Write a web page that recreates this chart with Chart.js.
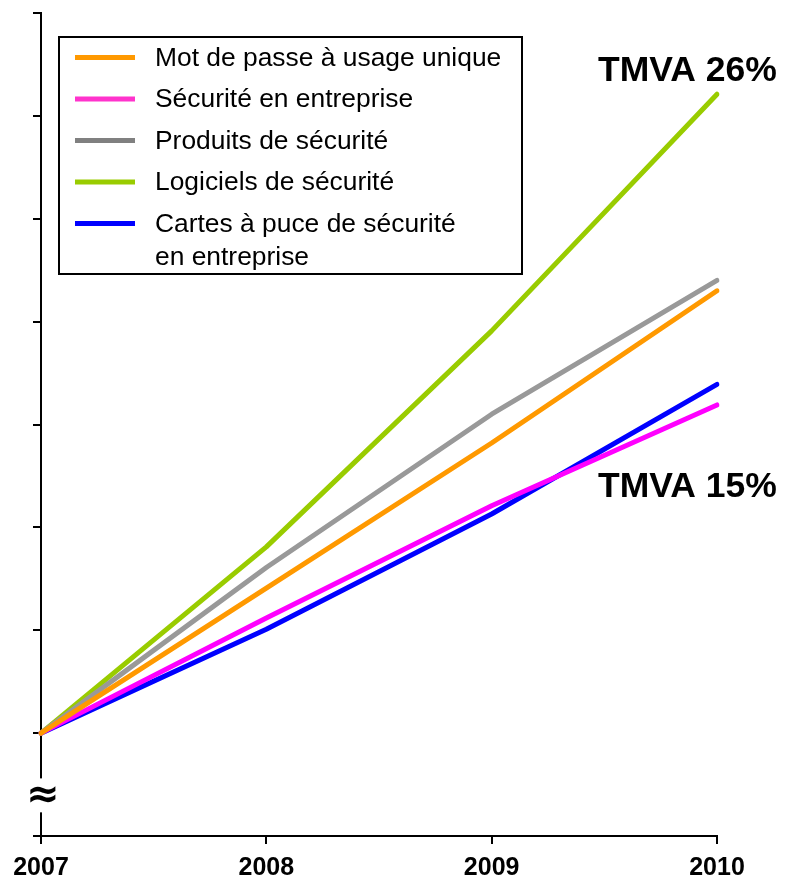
<!DOCTYPE html>
<html>
<head>
<meta charset="utf-8">
<script src="https://cdn.jsdelivr.net/npm/chart.js@4/dist/chart.umd.min.js"></script>
<style>
  html, body { margin: 0; padding: 0; background: #fff; }
  #wrap { width: 791px; height: 883px; position: relative; }
</style>
</head>
<body>
<div id="wrap"><canvas id="tmvaChart"></canvas></div>
<script>
// Years on the x axis
const years = ['2007', '2008', '2009', '2010'];

// Growth index per segment (one unit = one y tick above the 2007 base)
const motDePasse = [0, 1.41, 2.82, 4.30];
const securiteEntreprise = [0, 1.12, 2.21, 3.19];
const produitsSecurite = [0, 1.61, 3.10, 4.40];
const logicielsSecurite = [0, 1.81, 3.91, 6.21];
const cartesPuce = [0, 1.01, 2.13, 3.39];

// Legend text (multi-line where the label wraps)
const seriesLabels = [
  ['Mot de passe à usage unique'],
  ['Sécurité en entreprise'],
  ['Produits de sécurité'],
  ['Logiciels de sécurité'],
  ['Cartes à puce de sécurité', 'en entreprise']
];
const lineColors = ['#FF9900', '#FF00FF', '#999999', '#99CC00', '#0000FF'];
const legendColors = ['#FF9900', '#FF33CC', '#808080', '#99CC00', '#0000FF'];

// Growth-rate callouts
const callouts = ['TMVA 26%', 'TMVA 15%'];

const FONT = "Arial, 'Liberation Sans', sans-serif";

const seriesData = [motDePasse, securiteEntreprise, produitsSecurite, logicielsSecurite, cartesPuce];

const datasets = seriesData.map((values, i) => ({
  label: seriesLabels[i].join(' '),
  data: values,
  borderColor: lineColors[i],
  borderWidth: 5,
  borderCapStyle: 'round',
  borderJoinStyle: 'round',
  pointRadius: 0,
  tension: 0,
  fill: false
}));

// Axis break, legend box and TMVA callouts
const extras = {
  id: 'extras',
  afterDraw(chart) {
    const { ctx, chartArea } = chart;
    const yScale = chart.scales.y;
    const axisX = chartArea.left;

    // break in the value axis below the base
    const y0 = yScale.getPixelForValue(0);
    const yMin = yScale.getPixelForValue(-1);
    const gapTop = y0 + (yMin - y0) * 0.44;
    const gapBottom = y0 + (yMin - y0) * 0.77;
    ctx.save();
    ctx.fillStyle = '#fff';
    ctx.fillRect(axisX - 4, gapTop, 8, gapBottom - gapTop);
    ctx.fillStyle = '#000';
    ctx.font = "bold 40px 'DejaVu Sans', sans-serif";
    ctx.textAlign = 'center';
    ctx.textBaseline = 'middle';
    ctx.fillText('≈', axisX + 2, (gapTop + gapBottom) / 2 + 1);

    // legend
    const box = { x: 59, y: 37, w: 463, h: 237 };
    ctx.fillStyle = '#fff';
    ctx.fillRect(box.x, box.y, box.w, box.h);
    ctx.strokeStyle = '#000';
    ctx.lineWidth = 2;
    ctx.strokeRect(box.x, box.y, box.w, box.h);
    ctx.font = '26.4px ' + FONT;
    ctx.textAlign = 'left';
    ctx.textBaseline = 'middle';
    let rowY = box.y + 20.5;
    seriesLabels.forEach((lines, i) => {
      ctx.strokeStyle = legendColors[i];
      ctx.lineWidth = 5;
      ctx.beginPath();
      ctx.moveTo(box.x + 16, rowY);
      ctx.lineTo(box.x + 76, rowY);
      ctx.stroke();
      ctx.fillStyle = '#000';
      lines.forEach((t, k) => ctx.fillText(t, box.x + 96, rowY + 1 + k * 33));
      rowY += 41.5;
    });

    // callouts
    ctx.font = 'bold 35.5px ' + FONT;
    ctx.fillStyle = '#000';
    ctx.textAlign = 'left';
    ctx.fillText(callouts[0], 598, 71);
    ctx.fillText(callouts[1], 598, 487);
    ctx.restore();
  }
};

new Chart(document.getElementById('tmvaChart'), {
  type: 'line',
  data: { labels: years, datasets },
  plugins: [extras],
  options: {
    responsive: true,
    maintainAspectRatio: false,
    animation: false,
    layout: { padding: { top: 13, left: 33, right: 74, bottom: -9 } },
    plugins: {
      legend: { display: false },
      tooltip: { enabled: false }
    },
    scales: {
      x: {
        offset: false,
        border: { color: '#000', width: 2 },
        grid: { drawOnChartArea: false, color: '#000', lineWidth: 2, tickLength: 8 },
        ticks: {
          color: '#000',
          padding: 9,
          maxRotation: 0,
          font: { family: FONT, size: 25, weight: 'bold' }
        }
      },
      y: {
        min: -1,
        max: 7,
        border: { color: '#000', width: 2 },
        grid: { drawOnChartArea: false, color: '#000', lineWidth: 2, tickLength: 8 },
        ticks: { display: false, stepSize: 1 }
      }
    }
  }
});
</script>
</body>
</html>
